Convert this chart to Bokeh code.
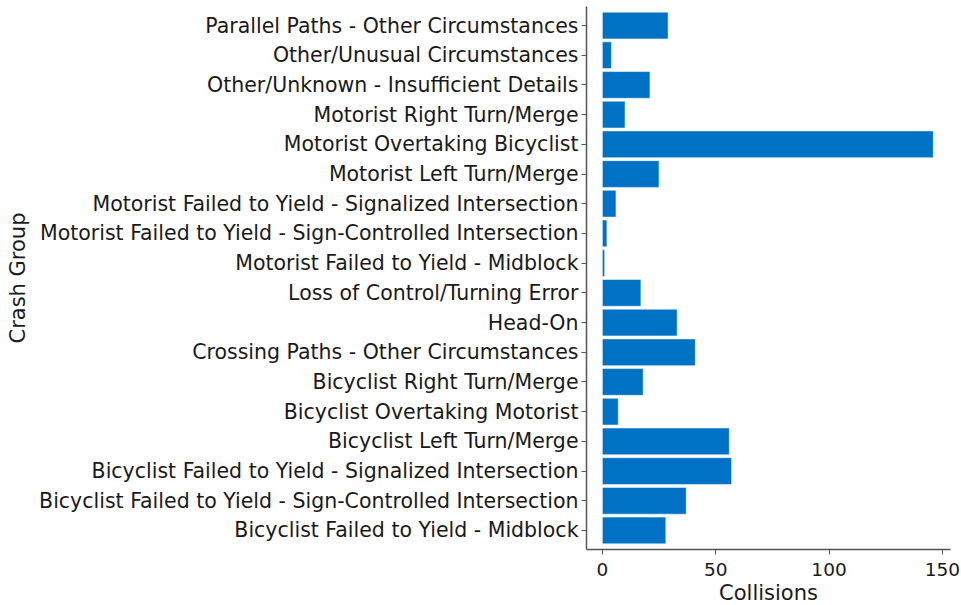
from bokeh.plotting import figure
from bokeh.models import FactorRange, Range1d, ColumnDataSource
from bokeh.embed import file_html
from bokeh.resources import INLINE

categories = [
    "Bicyclist Failed to Yield - Midblock",
    "Bicyclist Failed to Yield - Sign-Controlled Intersection",
    "Bicyclist Failed to Yield - Signalized Intersection",
    "Bicyclist Left Turn/Merge",
    "Bicyclist Overtaking Motorist",
    "Bicyclist Right Turn/Merge",
    "Crossing Paths - Other Circumstances",
    "Head-On",
    "Loss of Control/Turning Error",
    "Motorist Failed to Yield - Midblock",
    "Motorist Failed to Yield - Sign-Controlled Intersection",
    "Motorist Failed to Yield - Signalized Intersection",
    "Motorist Left Turn/Merge",
    "Motorist Overtaking Bicyclist",
    "Motorist Right Turn/Merge",
    "Other/Unknown - Insufficient Details",
    "Other/Unusual Circumstances",
    "Parallel Paths - Other Circumstances",
]
collisions = [28, 37, 57, 56, 7, 18, 41, 33, 17, 1, 2, 6, 25, 146, 10, 21, 4, 29]
x_ticks = [0, 50, 100, 150]

FONT = "DejaVu Sans"
src = ColumnDataSource(data=dict(cat=categories, val=collisions))

p = figure(
    y_range=FactorRange(*categories, range_padding=0.14, range_padding_units="absolute"),
    x_range=Range1d(-7, 153.6),
    frame_width=364, frame_height=543,
    min_border_left=586, min_border_right=11, min_border_top=6, min_border_bottom=0,
    output_backend="svg", toolbar_location=None,
)
p.hbar(y="cat", right="val", left=0, height=0.9, source=src,
       fill_color="#0072C6", line_color="white", line_alpha=0.5, line_width=1)

p.xgrid.visible = False
p.ygrid.visible = False
p.outline_line_color = None
p.background_fill_color = "white"
p.border_fill_color = "white"

p.xaxis.ticker = x_ticks
p.xaxis.axis_label = "Collisions"
p.yaxis.axis_label = "Crash Group"
for ax in (p.xaxis[0], p.yaxis[0]):
    ax.axis_line_color = "#555555"
    ax.axis_line_width = 1.5
    ax.major_tick_line_color = "#555555"
    ax.major_tick_out = 5
    ax.major_tick_in = 0
    ax.minor_tick_line_color = None
    ax.major_label_text_font = FONT
    ax.major_label_text_color = "#1a1a1a"
    ax.axis_label_text_font = FONT
    ax.axis_label_text_font_size = "21px"
    ax.axis_label_text_font_style = "normal"
    ax.axis_label_text_color = "#1a1a1a"
p.yaxis.major_label_text_font_size = "20.5px"
p.xaxis.major_label_text_font_size = "18.5px"
p.xaxis.axis_label_standoff = 2
p.yaxis.axis_label_standoff = 6
p.yaxis.major_label_standoff = 3
p.xaxis.major_label_standoff = 8

open("out.html", "w").write(file_html(p, INLINE))
